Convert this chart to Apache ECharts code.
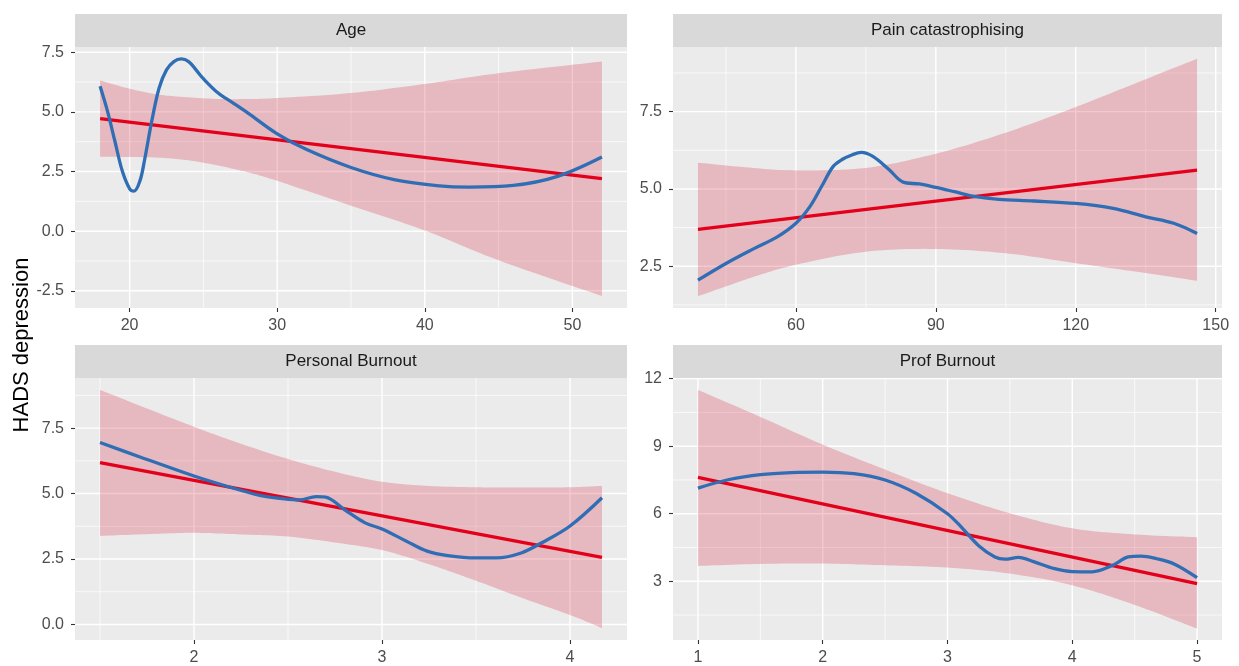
<!DOCTYPE html>
<html>
<head>
<meta charset="utf-8">
<title>HADS depression</title>
<script src="https://cdn.jsdelivr.net/npm/echarts@6/dist/echarts.min.js"></script>
<style>
  html, body { margin: 0; padding: 0; background: #ffffff; }
  #chart { width: 1239px; height: 666px; }
</style>
</head>
<body>
<div id="chart"></div>
<script>
// ---------- Age ----------
const ageBandX   = [18, 20, 22, 24, 26, 28, 30, 35, 40, 45, 52];
const ageUpper   = [6.32, 5.97, 5.72, 5.61, 5.54, 5.54, 5.58, 5.79, 6.17, 6.62, 7.11];
const ageLower   = [3.12, 3.11, 3.08, 2.97, 2.75, 2.47, 2.11, 1.07, 0.03, -1.22, -2.72];
const ageFitX    = [18, 52];
const ageFitY    = [4.72, 2.20];
const ageLoessX  = [18, 18.5, 19, 19.5, 20, 20.3, 20.7, 21, 21.5, 22, 22.5, 23, 23.5, 24, 24.5, 25, 26, 27, 28, 30, 32, 35, 38, 41, 43, 46, 49, 52];
const ageLoessY  = [6.07, 5.03, 3.78, 2.53, 1.78, 1.68, 2.11, 2.94, 4.61, 6.0, 6.76, 7.11, 7.22, 7.11, 6.76, 6.39, 5.79, 5.38, 4.96, 4.08, 3.42, 2.67, 2.15, 1.9, 1.85, 1.92, 2.3, 3.11];
const ageXTicks  = [20, 30, 40, 50];
const ageXMinor  = [25, 35, 45];
const ageYTicks  = [-2.5, 0, 2.5, 5, 7.5];
const ageYMinor  = [-1.25, 1.25, 3.75, 6.25];
const ageXRange  = [16.3, 53.7];
const ageYRange  = [-3.22, 7.72];

// ---------- Pain catastrophising ----------
const painBandX  = [39, 50, 60, 75, 90, 105, 120, 135, 146];
const painUpper  = [5.85, 5.69, 5.60, 5.68, 6.14, 6.82, 7.65, 8.55, 9.21];
const painLower  = [1.53, 2.11, 2.55, 2.97, 3.06, 2.92, 2.60, 2.28, 2.03];
const painFitX   = [39, 146];
const painFitY   = [3.69, 5.61];
const painLoessX = [39, 45, 51, 56, 60, 63, 65.5, 68, 70, 72, 74, 76.5, 80, 83, 86.5, 90, 94, 98.5, 103.5, 111, 120, 128, 135, 141, 146];
const painLoessY = [2.05, 2.59, 3.07, 3.45, 3.89, 4.43, 5.08, 5.73, 5.96, 6.1, 6.18, 6.05, 5.62, 5.22, 5.16, 5.05, 4.91, 4.75, 4.66, 4.61, 4.53, 4.37, 4.1, 3.89, 3.56];
const painXTicks = [60, 90, 120, 150];
const painXMinor = [45, 75, 105, 135];
const painYTicks = [2.5, 5, 7.5];
const painYMinor = [1.25, 3.75, 6.25, 8.75];
const painXRange = [33.65, 151.35];
const painYRange = [1.15, 9.59];

// ---------- Personal Burnout ----------
const pbBandX    = [1.5, 1.75, 2, 2.25, 2.5, 2.75, 3, 3.25, 3.5, 3.75, 4, 4.17];
const pbUpper    = [8.96, 8.25, 7.55, 6.90, 6.32, 5.83, 5.45, 5.29, 5.24, 5.23, 5.24, 5.29];
const pbLower    = [3.38, 3.45, 3.50, 3.44, 3.36, 3.13, 2.84, 2.30, 1.67, 1.00, 0.36, -0.14];
const pbFitX     = [1.5, 4.17];
const pbFitY     = [6.18, 2.56];
const pbLoessX   = [1.5, 1.72, 2, 2.17, 2.35, 2.48, 2.56, 2.65, 2.7, 2.8, 2.91, 3, 3.13, 3.24, 3.35, 3.5, 3.61, 3.74, 3.85, 4, 4.17];
const pbLoessY   = [6.95, 6.38, 5.67, 5.29, 4.93, 4.80, 4.76, 4.88, 4.86, 4.39, 3.88, 3.65, 3.18, 2.80, 2.63, 2.54, 2.54, 2.73, 3.12, 3.76, 4.84];
const pbXTicks   = [2, 3, 4];
const pbXMinor   = [1.5, 2.5, 3.5];
const pbYTicks   = [0, 2.5, 5, 7.5];
const pbYMinor   = [1.25, 3.75, 6.25, 8.75];
const pbXRange   = [1.367, 4.303];
const pbYRange   = [-0.595, 9.415];

// ---------- Prof Burnout ----------
const profBandX  = [1, 1.5, 2, 2.5, 3, 3.5, 4, 4.5, 5];
const profUpper  = [11.5, 10.3, 9.07, 7.96, 6.91, 6.02, 5.35, 5.08, 4.96];
const profLower  = [3.68, 3.77, 3.79, 3.71, 3.61, 3.34, 2.82, 1.95, 0.90];
const profFitX   = [1, 5];
const profFitY   = [7.61, 2.90];
const profLoessX = [1, 1.25, 1.5, 1.75, 2, 2.25, 2.5, 2.75, 3, 3.12, 3.25, 3.38, 3.46, 3.57, 3.69, 3.85, 4.0, 4.16, 4.32, 4.45, 4.55, 4.68, 4.82, 5];
const profLoessY = [7.14, 7.52, 7.74, 7.83, 7.85, 7.78, 7.5, 6.9, 6.0, 5.35, 4.58, 4.08, 3.98, 4.06, 3.87, 3.57, 3.43, 3.42, 3.7, 4.08, 4.12, 4.0, 3.76, 3.16];
const profXTicks = [1, 2, 3, 4, 5];
const profXMinor = [1.5, 2.5, 3.5, 4.5];
const profYTicks = [3, 6, 9, 12];
const profYMinor = [1.5, 4.5, 7.5, 10.5];
const profXRange = [0.8, 5.2];
const profYRange = [0.391, 12.029];

const panelTitles = ['Age', 'Pain catastrophising', 'Personal Burnout', 'Prof Burnout'];
const yAxisTitle = 'HADS depression';

const panels = [
  { band: [ageBandX, ageUpper, ageLower],   fit: [ageFitX, ageFitY],   loess: [ageLoessX, ageLoessY],
    xTicks: ageXTicks, xMinor: ageXMinor, yTicks: ageYTicks, yMinor: ageYMinor, xr: ageXRange, yr: ageYRange, digits: 1 },
  { band: [painBandX, painUpper, painLower], fit: [painFitX, painFitY], loess: [painLoessX, painLoessY],
    xTicks: painXTicks, xMinor: painXMinor, yTicks: painYTicks, yMinor: painYMinor, xr: painXRange, yr: painYRange, digits: 1 },
  { band: [pbBandX, pbUpper, pbLower],       fit: [pbFitX, pbFitY],     loess: [pbLoessX, pbLoessY],
    xTicks: pbXTicks, xMinor: pbXMinor, yTicks: pbYTicks, yMinor: pbYMinor, xr: pbXRange, yr: pbYRange, digits: 1 },
  { band: [profBandX, profUpper, profLower], fit: [profFitX, profFitY], loess: [profLoessX, profLoessY],
    xTicks: profXTicks, xMinor: profXMinor, yTicks: profYTicks, yMinor: profYMinor, xr: profXRange, yr: profYRange, digits: 0 }
];

// Facet layout (pixels): plotting area of each panel, strip sits above it
const boxes = [
  { left: 75,  top: 47,  width: 552, height: 261 },
  { left: 673, top: 47,  width: 549, height: 261 },
  { left: 75,  top: 378, width: 552, height: 262 },
  { left: 673, top: 378, width: 549, height: 262 }
];
const STRIP_H = 33;

const FONT = '"Liberation Sans", Arial, Helvetica, sans-serif';
const PANEL_BG = '#EBEBEB';
const STRIP_BG = '#D9D9D9';
const BAND_FILL = 'rgba(215, 30, 60, 0.25)';
const FIT_COLOR = '#E3001B';
const LOESS_COLOR = '#2F6EB4';

const pairs = (xs, ys) => xs.map((x, i) => [x, ys[i]]);

// Catmull-Rom pass over screen points so the band edges render as smooth curves
function smoothPath(pts, steps) {
  const out = [];
  const n = pts.length;
  for (let i = 0; i < n - 1; i++) {
    const p0 = pts[Math.max(i - 1, 0)], p1 = pts[i], p2 = pts[i + 1], p3 = pts[Math.min(i + 2, n - 1)];
    for (let s = 0; s < steps; s++) {
      const t = s / steps, t2 = t * t, t3 = t2 * t;
      const f = (a, b, c, d) => 0.5 * ((2 * b) + (-a + c) * t + (2 * a - 5 * b + 4 * c - d) * t2 + (-a + 3 * b - 3 * c + d) * t3);
      out.push([f(p0[0], p1[0], p2[0], p3[0]), f(p0[1], p1[1], p2[1], p3[1])]);
    }
  }
  out.push(pts[n - 1]);
  return out;
}

// white major/minor grid lines, drawn under the data layers
function gridRenderer(xr, yr) {
  return function (params, api) {
    const v = api.value(0);
    const vertical = api.value(1) === 0;
    const major = api.value(2) === 1;
    const a = vertical ? api.coord([v, yr[0]]) : api.coord([xr[0], v]);
    const b = vertical ? api.coord([v, yr[1]]) : api.coord([xr[1], v]);
    return {
      type: 'line',
      silent: true,
      shape: { x1: a[0], y1: a[1], x2: b[0], y2: b[1] },
      style: { stroke: '#FFFFFF', lineWidth: major ? 1.4 : 0.7 }
    };
  };
}

// confidence ribbon between the lower and upper limits
function bandRenderer(bx, bu, bl) {
  return function (params, api) {
    if (params.dataIndex !== 0) return null;
    const up = bx.map((x, k) => api.coord([x, bu[k]]));
    const lo = bx.map((x, k) => api.coord([x, bl[k]]));
    const pts = smoothPath(up, 12).concat(smoothPath(lo, 12).reverse());
    return {
      type: 'polygon',
      silent: true,
      shape: { points: pts },
      style: { fill: BAND_FILL }
    };
  };
}

const grids = [], xAxes = [], yAxes = [], series = [], graphics = [];

panels.forEach((p, i) => {
  const box = boxes[i];
  grids.push({
    left: box.left, top: box.top, width: box.width, height: box.height,
    show: true, backgroundColor: PANEL_BG, borderWidth: 0, containLabel: false
  });
  xAxes.push({
    type: 'value', gridIndex: i, min: p.xr[0], max: p.xr[1], position: 'bottom',
    axisLine: { show: false, onZero: false },
    splitLine: { show: false },
    axisTick: { show: true, customValues: p.xTicks, length: 4, lineStyle: { color: '#333333', width: 1.1 } },
    axisLabel: { customValues: p.xTicks, color: '#4D4D4D', fontSize: 16, fontFamily: FONT, margin: 10 }
  });
  yAxes.push({
    type: 'value', gridIndex: i, min: p.yr[0], max: p.yr[1], position: 'left',
    axisLine: { show: false, onZero: false },
    splitLine: { show: false },
    axisTick: { show: true, customValues: p.yTicks, length: 4, lineStyle: { color: '#333333', width: 1.1 } },
    axisLabel: {
      customValues: p.yTicks, color: '#4D4D4D', fontSize: 16, fontFamily: FONT, margin: 11,
      formatter: (v) => Number(v).toFixed(p.digits)
    }
  });

  const gridData = [];
  p.xTicks.forEach(v => gridData.push([v, 0, 1]));
  p.xMinor.forEach(v => gridData.push([v, 0, 0]));
  p.yTicks.forEach(v => gridData.push([v, 1, 1]));
  p.yMinor.forEach(v => gridData.push([v, 1, 0]));
  series.push({
    type: 'custom', xAxisIndex: i, yAxisIndex: i, z: 1, silent: true, clip: true,
    renderItem: gridRenderer(p.xr, p.yr), data: gridData
  });

  const [bx, bu, bl] = p.band;
  series.push({
    type: 'custom', xAxisIndex: i, yAxisIndex: i, z: 2, silent: true,
    renderItem: bandRenderer(bx, bu, bl),
    data: bx.map((x, k) => [x, bl[k], bu[k]])
  });

  // linear fit
  series.push({
    type: 'line', xAxisIndex: i, yAxisIndex: i, z: 3, silent: true,
    symbol: 'none', lineStyle: { color: FIT_COLOR, width: 3.3 },
    data: pairs(p.fit[0], p.fit[1])
  });

  // local smoother
  series.push({
    type: 'line', xAxisIndex: i, yAxisIndex: i, z: 4, silent: true,
    symbol: 'none', smooth: 0.35, lineStyle: { color: LOESS_COLOR, width: 3.3 },
    data: pairs(p.loess[0], p.loess[1])
  });

  // facet strip
  graphics.push({
    type: 'rect', silent: true,
    shape: { x: box.left, y: box.top - STRIP_H, width: box.width, height: STRIP_H },
    style: { fill: STRIP_BG }
  });
  graphics.push({
    type: 'text', silent: true,
    x: box.left + box.width / 2, y: box.top - STRIP_H / 2,
    style: {
      text: panelTitles[i], fill: '#1A1A1A', font: '17px ' + FONT,
      align: 'center', verticalAlign: 'middle'
    }
  });
});

graphics.push({
  type: 'text', silent: true,
  x: 22, y: 345, rotation: Math.PI / 2,
  style: {
    text: yAxisTitle, fill: '#000000', font: '22px ' + FONT,
    align: 'center', verticalAlign: 'middle'
  }
});

const chart = echarts.init(document.getElementById('chart'), null, { renderer: 'canvas' });
chart.setOption({
  animation: false,
  backgroundColor: '#FFFFFF',
  grid: grids,
  xAxis: xAxes,
  yAxis: yAxes,
  series: series,
  graphic: { elements: graphics }
});
</script>
</body>
</html>
